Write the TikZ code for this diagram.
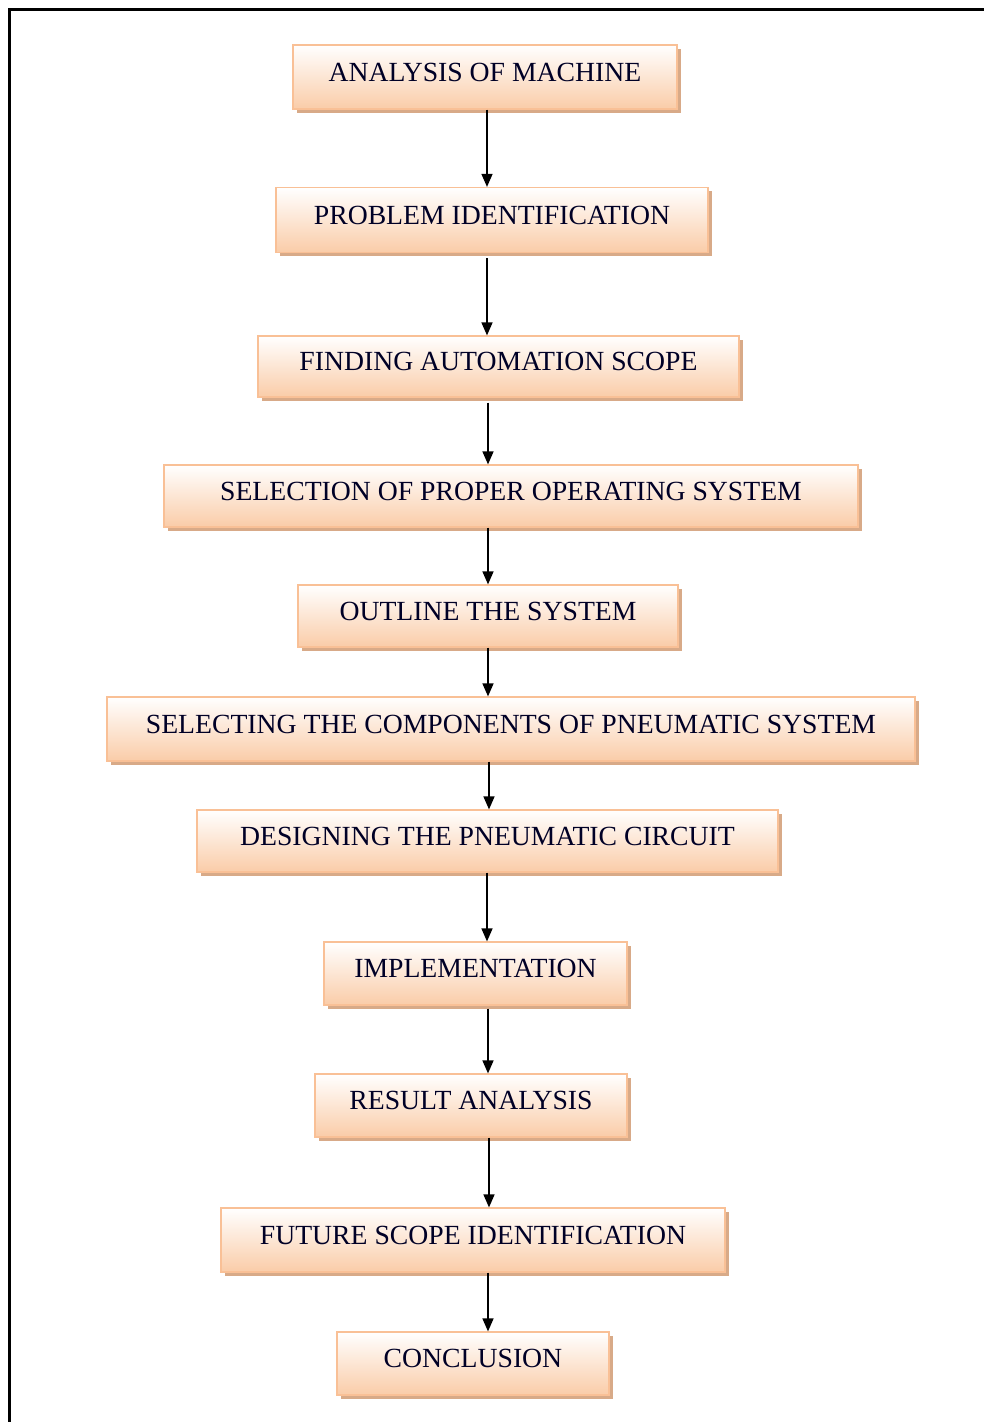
\documentclass[tikz,border=0pt]{standalone}
\usepackage{fontspec}
\setmainfont{Liberation Serif}
\usetikzlibrary{arrows.meta,shadows}
\definecolor{boxedge}{HTML}{F9C096}
\definecolor{boxbot}{HTML}{FACCA8}
\definecolor{shadowc}{HTML}{D8AA88}
\tikzset{
  flowbox/.style={draw=boxedge, line width=1.2pt, top color=white, bottom color=boxbot,
    minimum height=64pt, text height=20pt, text depth=12pt, inner sep=0pt,
    font=\fontsize{27.7}{30}\selectfont, text=black!85!blue,
    drop shadow={shadow xshift=3.5pt, shadow yshift=-3.5pt, fill=shadowc, opacity=1}},
  arr/.style={line width=1.4pt, -{Triangle[length=13pt,width=11pt]}},
  frame/.style={line width=3pt, line cap=rect}
}
\begin{document}
\begin{tikzpicture}[x=1pt,y=-1pt]
\useasboundingbox (0,0) rectangle (984,1422);
\coordinate (fr1) at (9,1422);
\coordinate (fr2) at (9,9);
\coordinate (fr3) at (984,9);
\draw[frame] (fr1) -- (fr2) -- (fr3);
\node[flowbox, minimum width=384pt, minimum height=64pt] (b1) at (485,77) {ANALYSIS OF MACHINE};
\node[flowbox, minimum width=432pt, minimum height=65pt] (b2) at (492,220) {PROBLEM IDENTIFICATION};
\node[flowbox, minimum width=481pt, minimum height=61pt] (b3) at (498.5,366.5) {FINDING AUTOMATION SCOPE};
\node[flowbox, minimum width=694pt, minimum height=62pt] (b4) at (511,496) {SELECTION OF PROPER OPERATING SYSTEM};
\node[flowbox, minimum width=380pt, minimum height=62pt] (b5) at (488,616) {OUTLINE THE SYSTEM};
\node[flowbox, minimum width=808pt, minimum height=64pt] (b6) at (511,729) {SELECTING THE COMPONENTS OF PNEUMATIC SYSTEM};
\node[flowbox, minimum width=581pt, minimum height=62pt] (b7) at (487.5,841) {DESIGNING THE PNEUMATIC CIRCUIT};
\node[flowbox, minimum width=303pt, minimum height=63pt] (b8) at (475.5,973.5) {IMPLEMENTATION};
\node[flowbox, minimum width=312pt, minimum height=63pt] (b9) at (471,1105.5) {RESULT ANALYSIS};
\node[flowbox, minimum width=504pt, minimum height=64pt] (b10) at (473,1240) {FUTURE SCOPE IDENTIFICATION};
\node[flowbox, minimum width=272pt, minimum height=63pt] (b11) at (473,1363.5) {CONCLUSION};
\coordinate (x1) at (487,0);
\coordinate (x2) at (488,0);
\coordinate (x3) at (489,0);
\draw[arr] (b1.south -| x1) -- (b2.north -| x1);
\draw[arr] (b2.south -| x1) ++(0,5) -- (b3.north -| x1);
\draw[arr] (b3.south -| x2) ++(0,5) -- (b4.north -| x2);
\draw[arr] (b4.south -| x2) -- (b5.north -| x2);
\draw[arr] (b5.south -| x2) -- (b6.north -| x2);
\draw[arr] (b6.south -| x3) -- (b7.north -| x3);
\draw[arr] (b7.south -| x1) -- (b8.north -| x1);
\draw[arr] (b8.south -| x2) ++(0,3) -- (b9.north -| x2);
\draw[arr] (b9.south -| x3) -- (b10.north -| x3);
\draw[arr] (b10.south -| x2) -- (b11.north -| x2);
\end{tikzpicture}
\end{document}
